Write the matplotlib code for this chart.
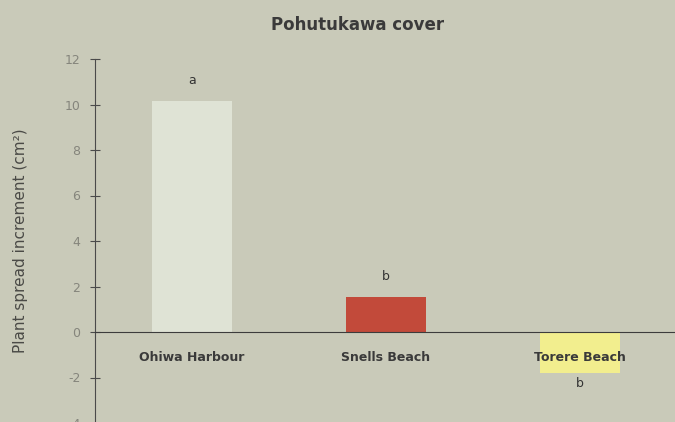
import matplotlib
matplotlib.use("Agg")
import matplotlib.pyplot as plt

sites = ["Ohiwa Harbour", "Snells Beach", "Torere Beach"]
spread = [10.15, 1.55, -1.8]
letters = ["a", "b", "b"]
bar_colors = ["#dfe3d5", "#c24a3a", "#f2ee8e"]
yticks = [-4, -2, 0, 2, 4, 6, 8, 10, 12]

bg = "#c9cab9"
plt.rcParams["font.family"] = ["DejaVu Sans"]
plt.rcParams["axes.unicode_minus"] = False

fig = plt.figure(figsize=(6.75, 4.22), dpi=100, facecolor=bg)
ax = fig.add_axes([95 / 675, -1 / 422, 580 / 675, 364 / 422], facecolor=bg)

x = list(range(len(sites)))
ax.bar(x, spread, width=0.41, color=bar_colors, zorder=1)

for i, (v, l) in enumerate(zip(spread, letters)):
    if v >= 0:
        ax.text(i, v + 0.6, l, ha="center", va="bottom", fontsize=9, color="#333333")
    else:
        ax.text(i, v - 0.45, l, ha="center", va="center", fontsize=9, color="#333333")

ax.set_xlim(-0.5, 2.49)
ax.set_ylim(-4, 12)
ax.set_yticks(yticks)
ax.set_xticks(x)

for s in ["top", "right"]:
    ax.spines[s].set_visible(False)
ax.spines["bottom"].set_position(("data", 0))
ax.spines["bottom"].set_color("#3c3c3c")
ax.spines["left"].set_color("#4a4a4a")
ax.tick_params(axis="x", length=0, pad=14)
ax.tick_params(axis="y", direction="inout", length=7, color="#4a4a4a",
               labelsize=9, labelcolor="#85857c", pad=7)
ax.set_xticklabels(sites)
for lbl in ax.get_xticklabels():
    lbl.set_fontsize(9)
    lbl.set_fontweight("bold")
    lbl.set_color("#3a3a3a")

ax.set_ylabel("Plant spread increment (cm²)", fontsize=11, color="#4a4a46", labelpad=26)
fig.text(358 / 675, 1 - 25 / 422, "Pohutukawa cover", ha="center", va="center",
         fontsize=12, fontweight="bold", color="#3a3a3a")

fig.savefig("out.png", dpi=100, facecolor=bg)
